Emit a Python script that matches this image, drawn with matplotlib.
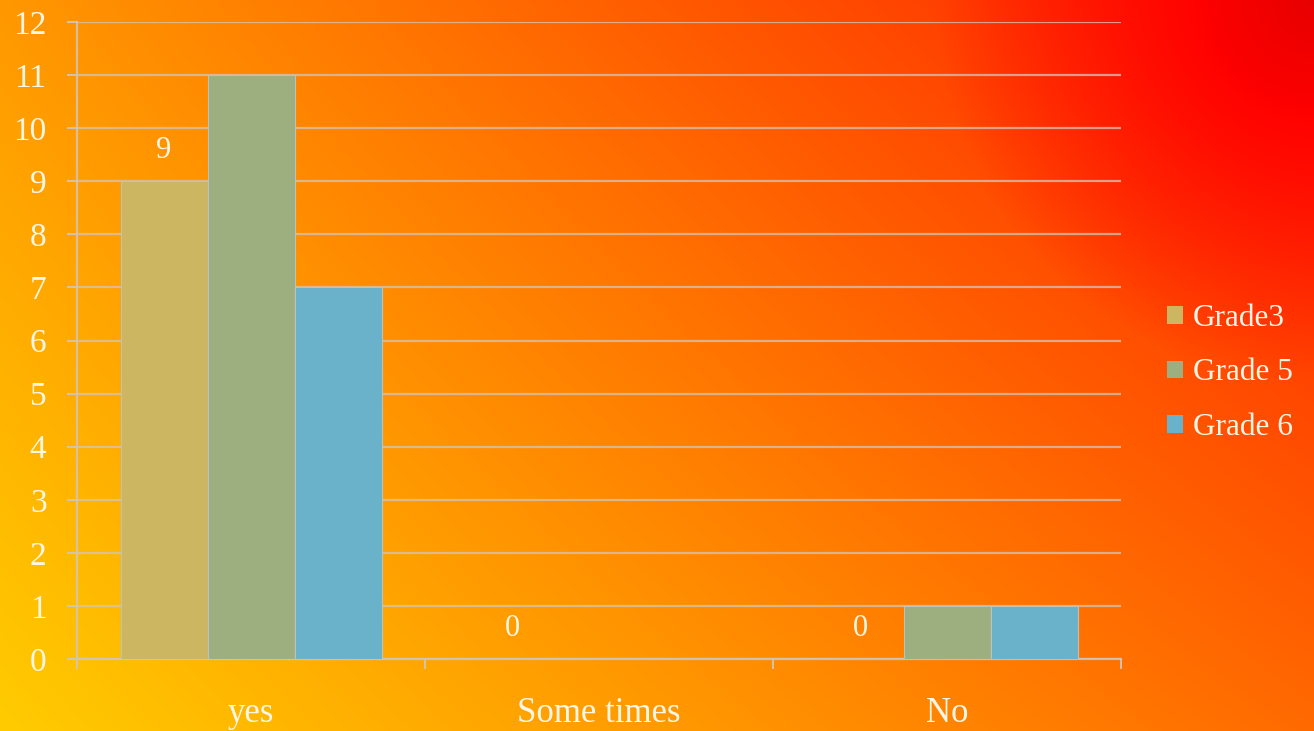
import numpy as np
import matplotlib
matplotlib.use("Agg")
import matplotlib.pyplot as plt
from matplotlib.patches import Patch

categories = ["yes", "Some times", "No"]
series_names = ["Grade3", "Grade 5", "Grade 6"]
grade3 = [9, 0, 0]
grade5 = [11, 0, 1]
grade6 = [7, 0, 1]
colors = ["#CCB662", "#9DAF7F", "#6AB1CA"]
yticks = list(range(0, 13))

W, H = 1314, 731
fig = plt.figure(figsize=(W / 100, H / 100), dpi=100)

# background gradient: yellow bottom-left -> orange -> red top-right corner
bg = fig.add_axes([0, 0, 1, 1], zorder=-10)
yy, xx = np.mgrid[0:H, 0:W].astype(float)
g = 152 - 0.093 * xx + 0.071 * yy + 0.000025 * xx * yy
g = np.clip(g, 25, 210)
d = np.hypot(xx - W, yy)
s = np.clip((d - 100) / 280, 0, 1)
g = g * s
r = 255 - 23 * np.clip(1 - d / 120, 0, 1)
img = np.stack([r / 255, g / 255, np.zeros_like(g)], axis=-1)
bg.imshow(img, aspect="auto", extent=[0, W, H, 0])
bg.axis("off")

ax = fig.add_axes([77 / W, 1 - 659 / H, (1121 - 77) / W, (659 - 22) / H])
ax.patch.set_alpha(0)

txt = "#FFF6E6"
fam = "Liberation Serif"
gridc = "#D2C6BA"

x = np.arange(len(categories))
bw = 0.25
series = [grade3, grade5, grade6]
for i, (vals, c, name) in enumerate(zip(series, colors, series_names)):
    ax.bar(x + (i - 1) * bw, vals, width=bw, color=c, edgecolor="#B9C4C0",
           linewidth=0.8, zorder=3, label=name)

for xi, v in zip(x, grade3):
    ax.annotate(str(v), (xi - bw, v), xytext=(0, 22), textcoords="offset points",
                ha="center", va="center", color=txt, fontsize=22, family=fam)

ax.set_xlim(-0.5, 2.5)
ax.set_ylim(0, 12)
ax.set_yticks(yticks)
ax.set_yticklabels([str(t) for t in yticks], family=fam, fontsize=24, color=txt)
ax.grid(axis="y", color=gridc, alpha=0.75, linewidth=1.6, zorder=0)
ax.tick_params(axis="y", length=7, width=1.3, color=gridc, pad=15)

ax.set_xticks(x)
ax.set_xticklabels(categories, family=fam, fontsize=25, color=txt)
ax.tick_params(axis="x", which="major", length=0, pad=27)
ax.set_xticks([-0.5, 0.5, 1.5, 2.5], minor=True)
ax.tick_params(axis="x", which="minor", length=7, width=1.3, color=gridc)

for sp in ["top", "right"]:
    ax.spines[sp].set_visible(False)
for sp in ["left", "bottom"]:
    ax.spines[sp].set_color(gridc)
    ax.spines[sp].set_linewidth(1.6)
    ax.spines[sp].set_alpha(0.85)

handles = [Patch(facecolor=c, edgecolor="none") for c in colors]
leg = fig.legend(handles, series_names, loc="center left",
                 bbox_to_anchor=(1167 / W, 1 - 373 / H), frameon=False,
                 prop={"family": fam, "size": 22.5},
                 handlelength=0.5, handleheight=0.5, handletextpad=0.33,
                 labelspacing=0.82, borderpad=0, borderaxespad=0)
for t in leg.get_texts():
    t.set_color(txt)

fig.savefig("out.png", dpi=100)
